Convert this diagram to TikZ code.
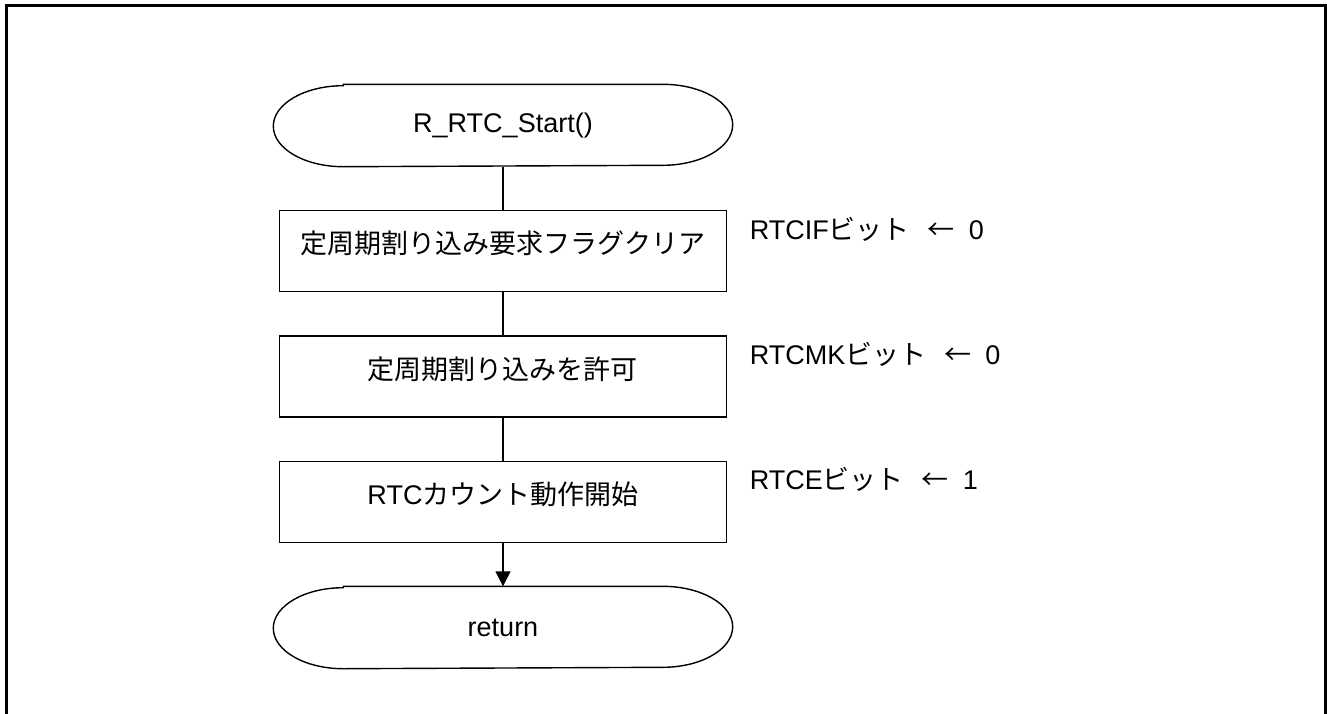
\documentclass[tikz,border=0pt]{standalone}
\usepackage{fontspec}
\setmainfont{Liberation Sans}
\newfontfamily\jp{Noto Sans CJK JP}
\newfontfamily\jpw[RawFeature=+fwid]{Noto Sans CJK JP}
\usepackage{tikz}
\usetikzlibrary{arrows.meta}
\newdimen\stepDist
\stepDist=62.75pt
\newcommand\termOutline[1]{%
  \draw ([xshift=35pt]#1.north west) -- ([xshift=-35pt]#1.north east)
    arc[start angle=90,end angle=-90,x radius=35pt,y radius=20.25pt]
    -- ([xshift=35pt]#1.south west)
    arc[start angle=270,end angle=90,x radius=35pt,y radius=20.25pt] -- cycle;}
\newcommand\setTo{\hspace{9pt}{\jpw ←}\hspace{7pt}}

\begin{document}
\begin{tikzpicture}[
    line width=0.7pt,
    font=\fontsize{13.5pt}{16pt}\selectfont,
    term/.style={%
      minimum width=229pt,
      minimum height=40.5pt,
      inner sep=0pt,
    },
    proc/.style={%
      draw,
      rectangle,
      minimum width=223.5pt,
      minimum height=40.5pt,
      inner sep=0pt,
      text height=0.88em,
      text depth=0.6em,
    },
    note/.style={%
      anchor=base west,
      inner sep=0pt,
    },
  ]

    \useasboundingbox (-251.5pt,62.75pt) rectangle (412pt,-293.75pt);
    \draw [line width=1.5pt] (-248pt,-300pt) -- (-248pt,60.25pt) -- (411pt,60.25pt) -- (411pt,-300pt);

    \node [term] (A) {R\_RTC\_Start()};
    \path (A) ++(0,-\stepDist) node [proc] (B) {\jp 定周期割り込み要求フラグクリア};
    \path (B) ++(0,-\stepDist) node [proc] (C) {\jp 定周期割り込みを許可};
    \path (C) ++(0,-\stepDist) node [proc] (D) {RTC{\jp カウント動作開始}};
    \path (D) ++(0,-\stepDist) node [term] (E) {return};
    \termOutline{A}
    \termOutline{E}

    \path (B.north east) ++(11pt,-15pt) node [note] (F) {RTCIF{\jp ビット}\setTo 0};
    \path (C.north east) ++(11pt,-14.5pt) node [note] (G) {RTCMK{\jp ビット}\setTo 0};
    \path (D.north east) ++(11pt,-14.5pt) node [note] (H) {RTCE{\jp ビット}\setTo 1};

    \draw (A) -- (B);
    \draw (B) -- (C);
    \draw (C) -- (D);
    \draw [-{Triangle[width=7.5pt,length=7.5pt]}] (D) -- (E);
\end{tikzpicture}
\end{document}
